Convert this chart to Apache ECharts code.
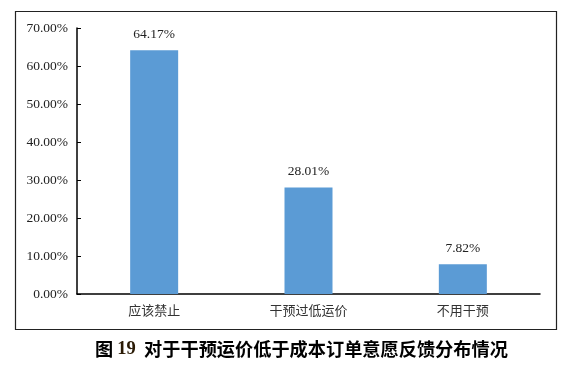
<!DOCTYPE html>
<html><head><meta charset="utf-8">
<script src="https://cdn.jsdelivr.net/npm/echarts@6/dist/echarts.min.js"></script>
<style>html,body{margin:0;padding:0;background:#fff}#c{width:571px;height:365px}</style>
</head><body><div id="c"></div>
<script>
const categories = ['应该禁止', '干预过低运价', '不用干预'];
const values = [64.17, 28.01, 7.82];
const yTicks = [0, 10, 20, 30, 40, 50, 60, 70];

const chart = echarts.init(document.getElementById('c'));
chart.setOption({
  animation: false,
  backgroundColor: '#fff',
  title: {
    text: '{a|图 }{b|19}{a|  对于干预运价低于成本订单意愿反馈分布情况}',
    left: 95, top: 340, padding: 0,
    textStyle: {
      rich: {
        a: { fontFamily: 'Noto Sans CJK SC', fontWeight: 'bold', fontSize: 18.2, color: '#000' },
        b: { fontFamily: 'Liberation Serif', fontWeight: 'bold', fontSize: 18.5, color: '#2a1a05' }
      }
    }
  },
  graphic: [{
    type: 'rect', shape: { x: 15.5, y: 11.5, width: 541, height: 318 },
    style: { fill: 'none', stroke: '#222', lineWidth: 1.2 }, silent: true
  }],
  grid: { left: 77, top: 28, right: 31, bottom: 71 },
  xAxis: {
    type: 'category', data: categories,
    axisLine: { lineStyle: { color: '#000', width: 1.5 } },
    axisTick: { show: false },
    axisLabel: { fontFamily: 'Noto Sans CJK SC', fontSize: 13, color: '#333', margin: 10 }
  },
  yAxis: {
    type: 'value', min: 0, max: 70, interval: 10,
    axisLine: { show: true, lineStyle: { color: '#000', width: 1.5 } },
    axisTick: { show: true, inside: true, length: 4, lineStyle: { color: '#000' } },
    splitLine: { show: false },
    axisLabel: { fontFamily: 'Liberation Serif', fontSize: 13.5, color: '#222', margin: 9,
      formatter: v => v.toFixed(2) + '%' }
  },
  series: [{
    type: 'bar', data: values, barWidth: 48,
    itemStyle: { color: '#5B9BD5' },
    label: { show: true, position: 'top', distance: 9, fontFamily: 'Liberation Serif', fontSize: 13.5, color: '#222',
      formatter: p => p.value.toFixed(2) + '%' }
  }]
});
</script></body></html>
